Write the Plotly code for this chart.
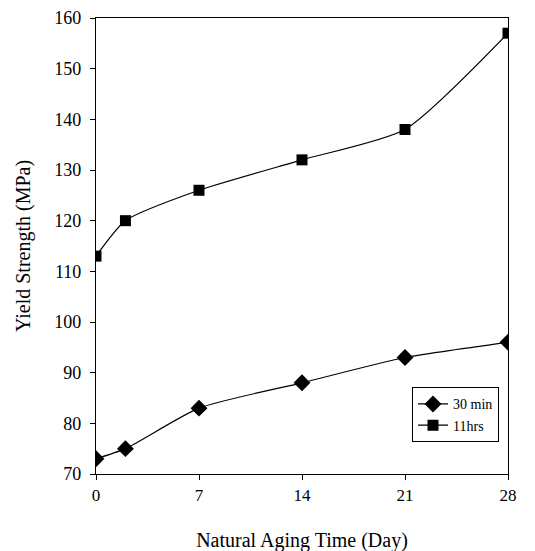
import plotly.graph_objects as go

days_30min = [0, 2, 7, 14, 21, 28]
ys_30min = [73, 75, 83, 88, 93, 96]
days_11hrs = [0, 2, 7, 14, 21, 28]
ys_11hrs = [113, 120, 126, 132, 138, 157]
x_ticks = [0, 7, 14, 21, 28]
y_ticks = [70, 80, 90, 100, 110, 120, 130, 140, 150, 160]

font = "Liberation Serif, Times New Roman, serif"

fig = go.Figure()
fig.add_trace(go.Scatter(x=days_30min, y=ys_30min, name="30 min", mode="lines+markers",
                         line=dict(color="black", width=1.2, shape="spline", smoothing=0.6),
                         marker=dict(symbol="diamond", size=13, color="black")))
fig.add_trace(go.Scatter(x=days_11hrs, y=ys_11hrs, name="11hrs", mode="lines+markers",
                         line=dict(color="black", width=1.2, shape="spline", smoothing=0.6),
                         marker=dict(symbol="square", size=11, color="black")))

fig.update_layout(
    width=535, height=551,
    margin=dict(l=88, r=35, t=10, b=85),
    paper_bgcolor="white", plot_bgcolor="white",
    font=dict(family=font, size=17, color="black"),
    showlegend=True,
    legend=dict(x=0.767, y=0.19, xanchor="left", yanchor="top",
                bordercolor="black", borderwidth=1, bgcolor="white",
                font=dict(size=14, family=font), tracegroupgap=0),
    xaxis=dict(range=[0, 28], tickvals=x_ticks, ticks="outside", ticklen=5, tickcolor="black",
               tickfont=dict(size=17), automargin=False,
               showline=True, linecolor="black", linewidth=1.2, mirror=True, showgrid=False,
               zeroline=False, title=dict(text="Natural Aging Time (Day)", standoff=29)),
    yaxis=dict(range=[70, 160], tickvals=y_ticks, ticks="outside", ticklen=5, tickcolor="black",
               tickfont=dict(size=18), ticklabelstandoff=5, automargin=False,
               showline=True, linecolor="black", linewidth=1.2, mirror=True, showgrid=False,
               zeroline=False, title=dict(text="Yield Strength (MPa)", standoff=18)),
)
fig.write_html("out.html")
